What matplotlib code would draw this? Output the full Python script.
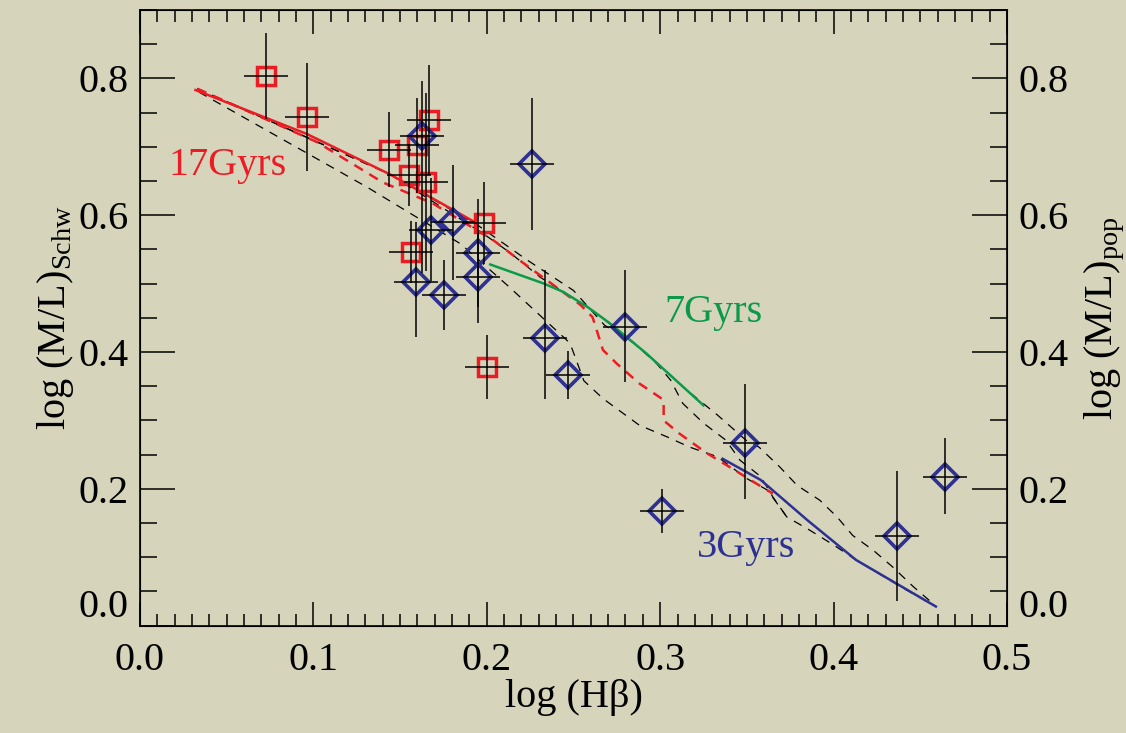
import numpy as np
import matplotlib
matplotlib.use("Agg")
import matplotlib.pyplot as plt
from matplotlib.ticker import MultipleLocator

plt.rcParams['font.family'] = ['Liberation Serif', 'DejaVu Serif']
plt.rcParams['mathtext.fontset'] = 'custom'
plt.rcParams['mathtext.rm'] = 'Liberation Serif'

# measured points: log(Hbeta), log(M/L)_Schw
red_x = [0.0725, 0.0961, 0.1436, 0.1596, 0.1669, 0.1553, 0.1649, 0.1984, 0.1561, 0.2000]
red_y = [0.804, 0.743, 0.696, 0.702, 0.739, 0.659, 0.648, 0.589, 0.546, 0.378]
red_err_lo = [0.063, 0.079, 0.055, 0.070, 0.080, 0.045, 0.130, 0.060, 0.045, 0.047]
red_err_hi = [0.063, 0.080, 0.055, 0.070, 0.080, 0.045, 0.130, 0.060, 0.045, 0.047]
red_xerr = [0.0127] * len(red_x)

blue_x = [0.1625, 0.2260, 0.1678, 0.1807, 0.1947, 0.1947, 0.1590, 0.1753,
          0.2797, 0.2336, 0.2470, 0.3008, 0.3489, 0.4364, 0.4640]
blue_y = [0.716, 0.675, 0.579, 0.590, 0.545, 0.509, 0.502, 0.484,
          0.4365, 0.420, 0.367, 0.168, 0.2676, 0.1314, 0.218]
blue_err_lo = [0.200, 0.096, 0.075, 0.084, 0.079, 0.067, 0.080, 0.052,
               0.080, 0.088, 0.036, 0.032, 0.083, 0.095, 0.055]
blue_err_hi = [0.080, 0.096, 0.075, 0.084, 0.079, 0.067, 0.088, 0.050,
               0.083, 0.100, 0.035, 0.032, 0.085, 0.095, 0.057]
blue_xerr = [0.0127] * len(blue_x)

# model tracks
old_x = [0.032, 0.096, 0.144, 0.193]
old_y = [0.783, 0.719, 0.660, 0.590]
old_dash_x = [0.033, 0.102, 0.140, 0.169, 0.204, 0.219, 0.240, 0.254, 0.261, 0.267,
              0.275, 0.288, 0.302, 0.302, 0.311, 0.327, 0.340, 0.354, 0.365]
old_dash_y = [0.785, 0.707, 0.648, 0.617, 0.563, 0.534, 0.495, 0.469, 0.451, 0.403,
              0.383, 0.354, 0.330, 0.300, 0.281, 0.252, 0.232, 0.210, 0.193]
mid_x = [0.202, 0.233, 0.244, 0.258, 0.271, 0.292, 0.325]
mid_y = [0.528, 0.500, 0.488, 0.466, 0.442, 0.398, 0.322]
young_x = [0.336, 0.358, 0.385, 0.413, 0.438, 0.459]
young_y = [0.244, 0.213, 0.154, 0.096, 0.059, 0.028]

dash1_x = [0.034, 0.131, 0.185, 0.213, 0.248, 0.256, 0.267, 0.288, 0.304, 0.317, 0.333,
           0.350, 0.362, 0.373, 0.386, 0.400, 0.413, 0.440, 0.459]
dash1_y = [0.780, 0.641, 0.558, 0.495, 0.413, 0.358, 0.332, 0.293, 0.276, 0.261, 0.247,
           0.215, 0.198, 0.159, 0.140, 0.118, 0.096, 0.055, 0.028]
dash2_x = [0.033, 0.144, 0.198, 0.213, 0.231, 0.246, 0.261, 0.285, 0.298, 0.306, 0.313,
           0.325, 0.338, 0.346, 0.358, 0.365, 0.373]
dash2_y = [0.785, 0.660, 0.573, 0.546, 0.509, 0.485, 0.461, 0.413, 0.383, 0.359, 0.325,
           0.296, 0.271, 0.242, 0.218, 0.188, 0.159]
dash3_x = [0.033, 0.144, 0.195, 0.223, 0.250, 0.268, 0.285, 0.300, 0.315, 0.333, 0.350,
           0.357, 0.369, 0.379, 0.392, 0.402, 0.411, 0.423, 0.434, 0.446, 0.457]
dash3_y = [0.785, 0.660, 0.585, 0.535, 0.490, 0.439, 0.413, 0.380, 0.345, 0.308, 0.270,
           0.261, 0.232, 0.205, 0.1835, 0.159, 0.132, 0.110, 0.086, 0.057, 0.033]

x_ticks = [0.0, 0.1, 0.2, 0.3, 0.4, 0.5]
y_ticks = [0.0, 0.2, 0.4, 0.6, 0.8]

bg = '#d6d5bc'
red = '#ec1c24'
green = '#0b9a4a'
blue = '#2e3192'

fig = plt.figure(figsize=(11.26, 7.33), dpi=100, facecolor=bg)
ax = fig.add_axes([0.1243, 0.1464, 0.7700, 0.8400], facecolor=bg)

for xs, ys in [(dash1_x, dash1_y), (dash2_x, dash2_y), (dash3_x, dash3_y)]:
    ax.plot(xs, ys, color='black', lw=0.9, dashes=(7, 6), zorder=2)
ax.plot(old_x, old_y, color=red, lw=1.8, zorder=2)
ax.plot(old_dash_x, old_dash_y, color=red, lw=1.8, dashes=(4, 3), zorder=2)
ax.plot(mid_x, mid_y, color=green, lw=1.8, zorder=2)
ax.plot(young_x, young_y, color=blue, lw=1.8, zorder=2)

ax.plot(red_x, red_y, 's', ms=12.5, mfc='none', mec=red, mew=2.5, zorder=3)
ax.plot(blue_x, blue_y, 'D', ms=13, mfc='none', mec=blue, mew=2.6, zorder=3)
ax.errorbar(red_x, red_y, xerr=red_xerr, yerr=[red_err_lo, red_err_hi],
            fmt='none', ecolor='black', elinewidth=1.1, capsize=0, zorder=4)
ax.errorbar(blue_x, blue_y, xerr=blue_xerr, yerr=[blue_err_lo, blue_err_hi],
            fmt='none', ecolor='black', elinewidth=1.1, capsize=0, zorder=4)

ax.text(0.0507, 0.6725, '17Gyrs', color=red, fontsize=29, ha='center', va='center')
ax.text(0.3305, 0.458, '7Gyrs', color=green, fontsize=29, ha='center', va='center')
ax.text(0.3495, 0.115, '3Gyrs', color=blue, fontsize=29, ha='center', va='center')

ax.set_xlim(0, 0.5)
ax.set_ylim(0, 0.9)
ax.set_xticks(x_ticks)
ax.set_xticklabels([f'{v:.1f}' for v in x_ticks])
ax.xaxis.set_minor_locator(MultipleLocator(0.01))
ax.set_yticks(y_ticks)
ax.set_yticklabels([f'{v:.1f}' for v in y_ticks])
ax.yaxis.set_minor_locator(MultipleLocator(0.05))
ax.tick_params(axis='x', which='major', direction='in', length=17, width=1.1,
               top=True, labelsize=29, pad=12)
ax.tick_params(axis='x', which='minor', direction='in', length=8.5, width=1.1, top=True)
ax.tick_params(axis='y', which='major', direction='in', length=25, width=1.1,
               labelsize=29, pad=8)
ax.tick_params(axis='y', which='minor', direction='in', length=12.5, width=1.1)
ax.get_yticklabels()[0].set_verticalalignment('bottom')
for s in ax.spines.values():
    s.set_linewidth(1.2)

ax.set_xlabel('log (Hβ)', fontsize=29, labelpad=0)
ax.set_ylabel(r'log (M/L)$_{\rm Schw}$', fontsize=29, labelpad=2)

ax2 = ax.twinx()
ax2.set_ylim(0, 0.9)
ax2.set_yticks(y_ticks)
ax2.set_yticklabels([f'{v:.1f}' for v in y_ticks])
ax2.yaxis.set_minor_locator(MultipleLocator(0.05))
ax2.tick_params(axis='y', which='major', direction='in', length=25, width=1.1,
                labelsize=29, pad=8)
ax2.tick_params(axis='y', which='minor', direction='in', length=12.5, width=1.1)
ax2.get_yticklabels()[0].set_verticalalignment('bottom')
ax2.set_ylabel(r'log (M/L)$_{\rm pop}$', fontsize=29, labelpad=10)

fig.savefig('out.png', dpi=100, facecolor=bg)
